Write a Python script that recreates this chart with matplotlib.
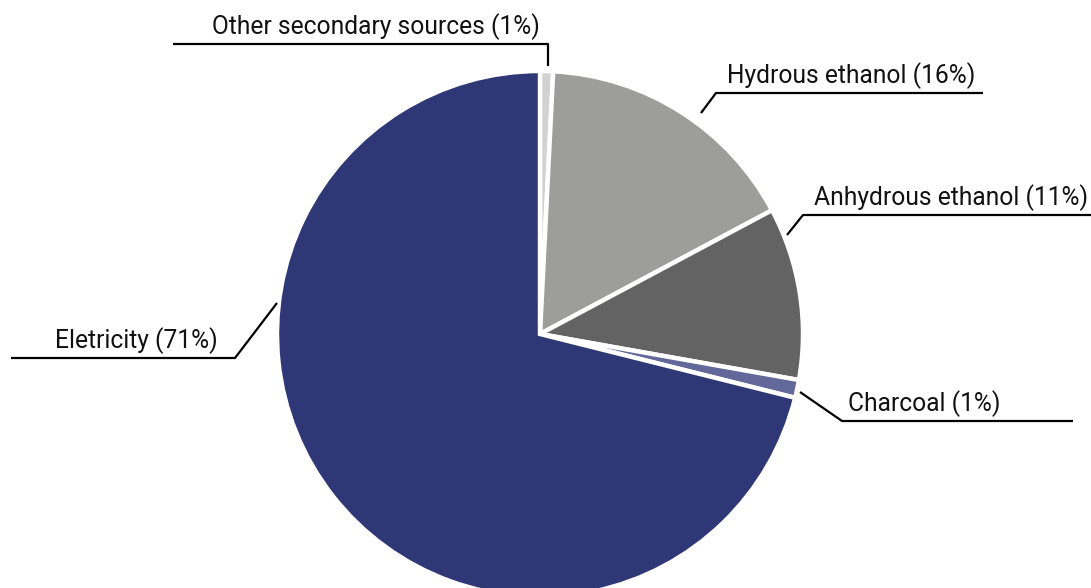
import matplotlib
matplotlib.use("Agg")
import matplotlib.pyplot as plt

plt.rcParams['font.family'] = ['Roboto', 'DejaVu Sans']

# shares, clockwise from 12 o'clock
labels = ['Other secondary sources (1%)', 'Hydrous ethanol (16%)',
          'Anhydrous ethanol (11%)', 'Charcoal (1%)', 'Eletricity (71%)']
values = [0.8, 16.4, 10.6, 1.1, 71.1]
colors = ['#d2d2d2', '#9d9d9c', '#636363', '#626899', '#2f3776']

W, H = 1091, 588
fig = plt.figure(figsize=(W / 100, H / 100), dpi=100)
ax = fig.add_axes([0, 0, 1, 1])

cx, cy, r = 540, H - 334, 263
ax.pie(values, colors=colors, startangle=90, counterclock=False,
       center=(cx, cy), radius=r, frame=True,
       wedgeprops=dict(edgecolor='white', linewidth=3.2))
ax.set_xlim(0, W)
ax.set_ylim(0, H)
ax.set_aspect('equal')
ax.axis('off')

# leader lines (pixel coords, y measured from top) and label anchors
leaders = [
    [(173, 44), (548, 44), (548, 66)],
    [(701, 113), (716, 93), (983, 93)],
    [(787, 235), (803, 215), (1091, 215)],
    [(800, 392), (842, 421), (1073, 421)],
    [(277, 303), (235, 358), (11, 358)],
]
text_pos = [(540, 27, 'right'), (727, 76, 'left'), (814, 198, 'left'),
            (848, 404, 'left'), (218, 341, 'right')]

for lab, pts, (tx, ty, ha) in zip(labels, leaders, text_pos):
    xs = [p[0] for p in pts]
    ys = [H - p[1] for p in pts]
    ax.plot(xs, ys, color='black', lw=1.6, solid_capstyle='butt')
    ax.text(tx, H - ty, lab, ha=ha, va='center', fontsize=17.7, color='#111111')

fig.savefig('out.png', dpi=100)
